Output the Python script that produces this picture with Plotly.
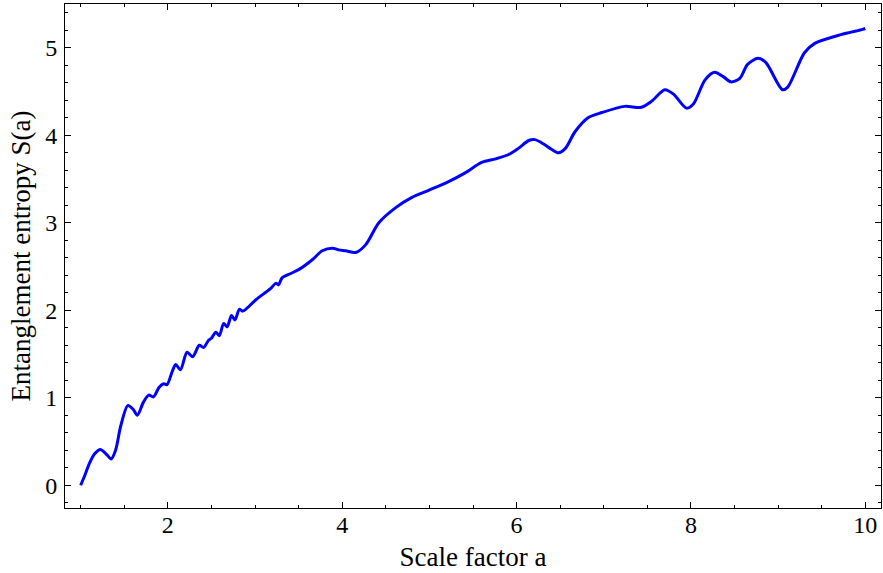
import plotly.graph_objects as go

scale_factor = [1.00, 1.05, 1.10, 1.16, 1.225, 1.29, 1.35, 1.40, 1.46, 1.54, 1.60, 1.65, 1.72, 1.78,
                1.835, 1.90, 1.95, 1.99, 2.05, 2.09, 2.144, 2.22, 2.285, 2.36, 2.41, 2.465, 2.50,
                2.55, 2.59, 2.64, 2.68, 2.73, 2.77, 2.82, 2.86, 3.01, 3.18, 3.24, 3.27, 3.31, 3.41,
                3.51, 3.66, 3.77, 3.89, 3.96, 4.04, 4.155, 4.27, 4.42, 4.61, 4.80, 4.99, 5.22, 5.41,
                5.60, 5.76, 5.91, 6.02, 6.14, 6.21, 6.31, 6.40, 6.48, 6.56, 6.67, 6.82, 6.98, 7.24,
                7.43, 7.55, 7.70, 7.80, 7.95, 8.03, 8.16, 8.27, 8.37, 8.46, 8.56, 8.65, 8.77, 8.86,
                9.05, 9.11, 9.30, 9.42, 9.72, 9.97, 10.0]
entropy = [0.0, 0.12, 0.25, 0.36, 0.41, 0.36, 0.30, 0.40, 0.68, 0.91, 0.87, 0.80, 0.95, 1.03,
           1.01, 1.12, 1.16, 1.15, 1.30, 1.38, 1.32, 1.52, 1.47, 1.60, 1.575, 1.655, 1.68,
           1.75, 1.71, 1.85, 1.81, 1.94, 1.89, 2.01, 1.99, 2.12, 2.25, 2.31, 2.29, 2.37, 2.42,
           2.47, 2.58, 2.68, 2.71, 2.69, 2.68, 2.66, 2.75, 3.00, 3.17, 3.29, 3.37, 3.47, 3.57,
           3.69, 3.73, 3.78, 3.85, 3.94, 3.95, 3.90, 3.84, 3.80, 3.85, 4.04, 4.20, 4.26, 4.33,
           4.32, 4.39, 4.52, 4.47, 4.31, 4.36, 4.63, 4.72, 4.67, 4.61, 4.65, 4.81, 4.88, 4.83,
           4.52, 4.55, 4.94, 5.05, 5.15, 5.21, 5.22]

x_ticks = [2, 4, 6, 8, 10]
y_ticks = [0, 1, 2, 3, 4, 5]

font_family = "Liberation Serif"

fig = go.Figure()
fig.add_trace(go.Scatter(
    x=scale_factor, y=entropy, mode="lines",
    line=dict(color="#0000FF", width=3, shape="spline", smoothing=0.8),
    showlegend=False, hoverinfo="skip",
))

axis_common = dict(
    showline=True, linecolor="black", linewidth=1, mirror="ticks",
    ticks="inside", ticklen=6, tickwidth=1, tickcolor="black",
    showgrid=False, zeroline=False, automargin=False,
    tickfont=dict(family=font_family, size=24, color="black"),
)

fig.update_xaxes(
    **axis_common,
    range=[0.82, 10.18], tickvals=x_ticks,
    minor=dict(ticks="inside", ticklen=3, dtick=0.5, tick0=0, tickcolor="black", showgrid=False),
    title=dict(text="Scale factor a", font=dict(family=font_family, size=27, color="black"), standoff=10),
    ticklabelstandoff=-5,
)
fig.update_yaxes(
    **axis_common,
    range=[-0.26, 5.50], tickvals=y_ticks,
    minor=dict(ticks="inside", ticklen=3, dtick=0.2, tick0=0, tickcolor="black", showgrid=False),
    title=dict(text="Entanglement entropy S(a)", font=dict(family=font_family, size=27, color="black"), standoff=6),
    ticklabelstandoff=2,
)

fig.update_layout(
    width=883, height=573,
    margin=dict(l=65, r=2, t=4, b=65),
    paper_bgcolor="white", plot_bgcolor="white",
)

fig.write_html("out.html", config={"displayModeBar": False},
               post_script="document.body.style.margin='0';")
